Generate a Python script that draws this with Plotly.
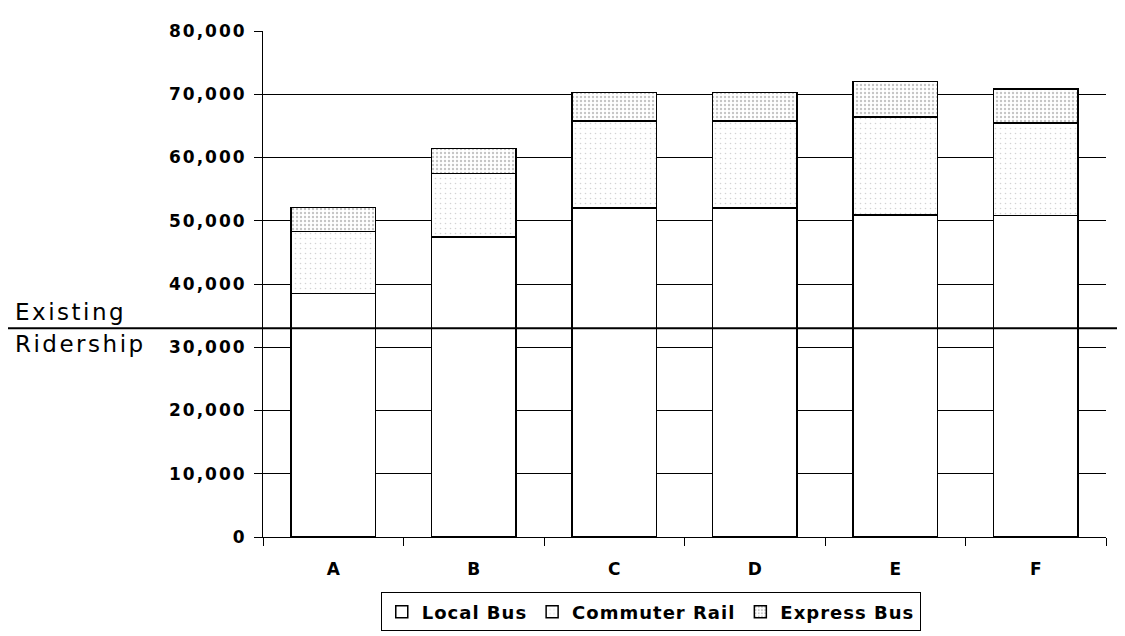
import plotly.graph_objects as go

categories = ["A", "B", "C", "D", "E", "F"]
local_bus = [38500, 47400, 52000, 52000, 50900, 50800]
commuter_rail = [9800, 10050, 13800, 13800, 15500, 14650]
express_bus = [3800, 4000, 4500, 4500, 5600, 5350]
existing_ridership = 33000
series_names = ["Local Bus", "Commuter Rail", "Express Bus"]
y_tick_values = [0, 10000, 20000, 30000, 40000, 50000, 60000, 70000, 80000]
y_tick_labels = ["0", "10,000", "20,000", "30,000", "40,000", "50,000", "60,000", "70,000", "80,000"]

spaced = lambda s, sp: f'<span style="letter-spacing:{sp}px">{s}</span>'

fig = go.Figure()
fig.add_trace(go.Bar(
    x=categories, y=local_bus, name=spaced(series_names[0], 1),
    marker=dict(color="white", line=dict(color="black", width=1.5)),
))
fig.add_trace(go.Bar(
    x=categories, y=commuter_rail, name=spaced(series_names[1], 1),
    marker=dict(color="white", line=dict(color="black", width=1.5),
                pattern=dict(shape=".", fgcolor="#a8a8a8", bgcolor="white",
                             size=5, solidity=0.08)),
))
fig.add_trace(go.Bar(
    x=categories, y=express_bus, name=spaced(series_names[2], 1),
    marker=dict(color="white", line=dict(color="black", width=1.5),
                pattern=dict(shape=".", fgcolor="#8a8a8a", bgcolor="white",
                             size=4, solidity=0.28)),
))

fig.update_layout(
    width=1125, height=636,
    margin=dict(l=255, r=27, t=23, b=93),
    paper_bgcolor="white", plot_bgcolor="white",
    barmode="stack", bargap=0.4,
    showlegend=True,
    legend=dict(
        orientation="h", x=0.46, xanchor="center", y=-0.1096, yanchor="top",
        bordercolor="black", borderwidth=1, bgcolor="white", traceorder="normal",
        font=dict(family="DejaVu Sans", size=18, color="black", weight="bold"),
    ),
    yaxis=dict(
        range=[0, 80000], tickvals=y_tick_values,
        ticktext=[spaced(t, 2) for t in y_tick_labels],
        showline=True, linecolor="black", linewidth=1,
        ticks="outside", ticklen=8, tickcolor="black", tickwidth=1,
        ticklabelstandoff=4,
        showgrid=True, gridcolor="black", gridwidth=1, zeroline=False,
        tickfont=dict(family="DejaVu Sans", size=17, color="black", weight="bold"),
    ),
    xaxis=dict(
        showline=True, linecolor="black", linewidth=1,
        ticks="outside", ticklen=8, tickcolor="black", tickwidth=1,
        tickson="boundaries", showgrid=False, ticklabelstandoff=17,
        tickfont=dict(family="DejaVu Sans", size=17, color="black", weight="bold"),
    ),
)

fig.add_shape(type="line", xref="paper", yref="y",
              x0=-255 / 843, x1=1 + 27 / 843, y0=existing_ridership, y1=existing_ridership,
              line=dict(color="black", width=2), layer="above")
fig.add_annotation(xref="paper", yref="y", x=-250 / 843, y=existing_ridership,
                   text=spaced("Existing", 2.5), showarrow=False,
                   xanchor="left", yanchor="bottom", yshift=1,
                   font=dict(family="DejaVu Sans", size=23, color="black"))
fig.add_annotation(xref="paper", yref="y", x=-250 / 843, y=existing_ridership,
                   text=spaced("Ridership", 2.5), showarrow=False,
                   xanchor="left", yanchor="top", yshift=-1,
                   font=dict(family="DejaVu Sans", size=23, color="black"))

fig.write_html("out.html")
